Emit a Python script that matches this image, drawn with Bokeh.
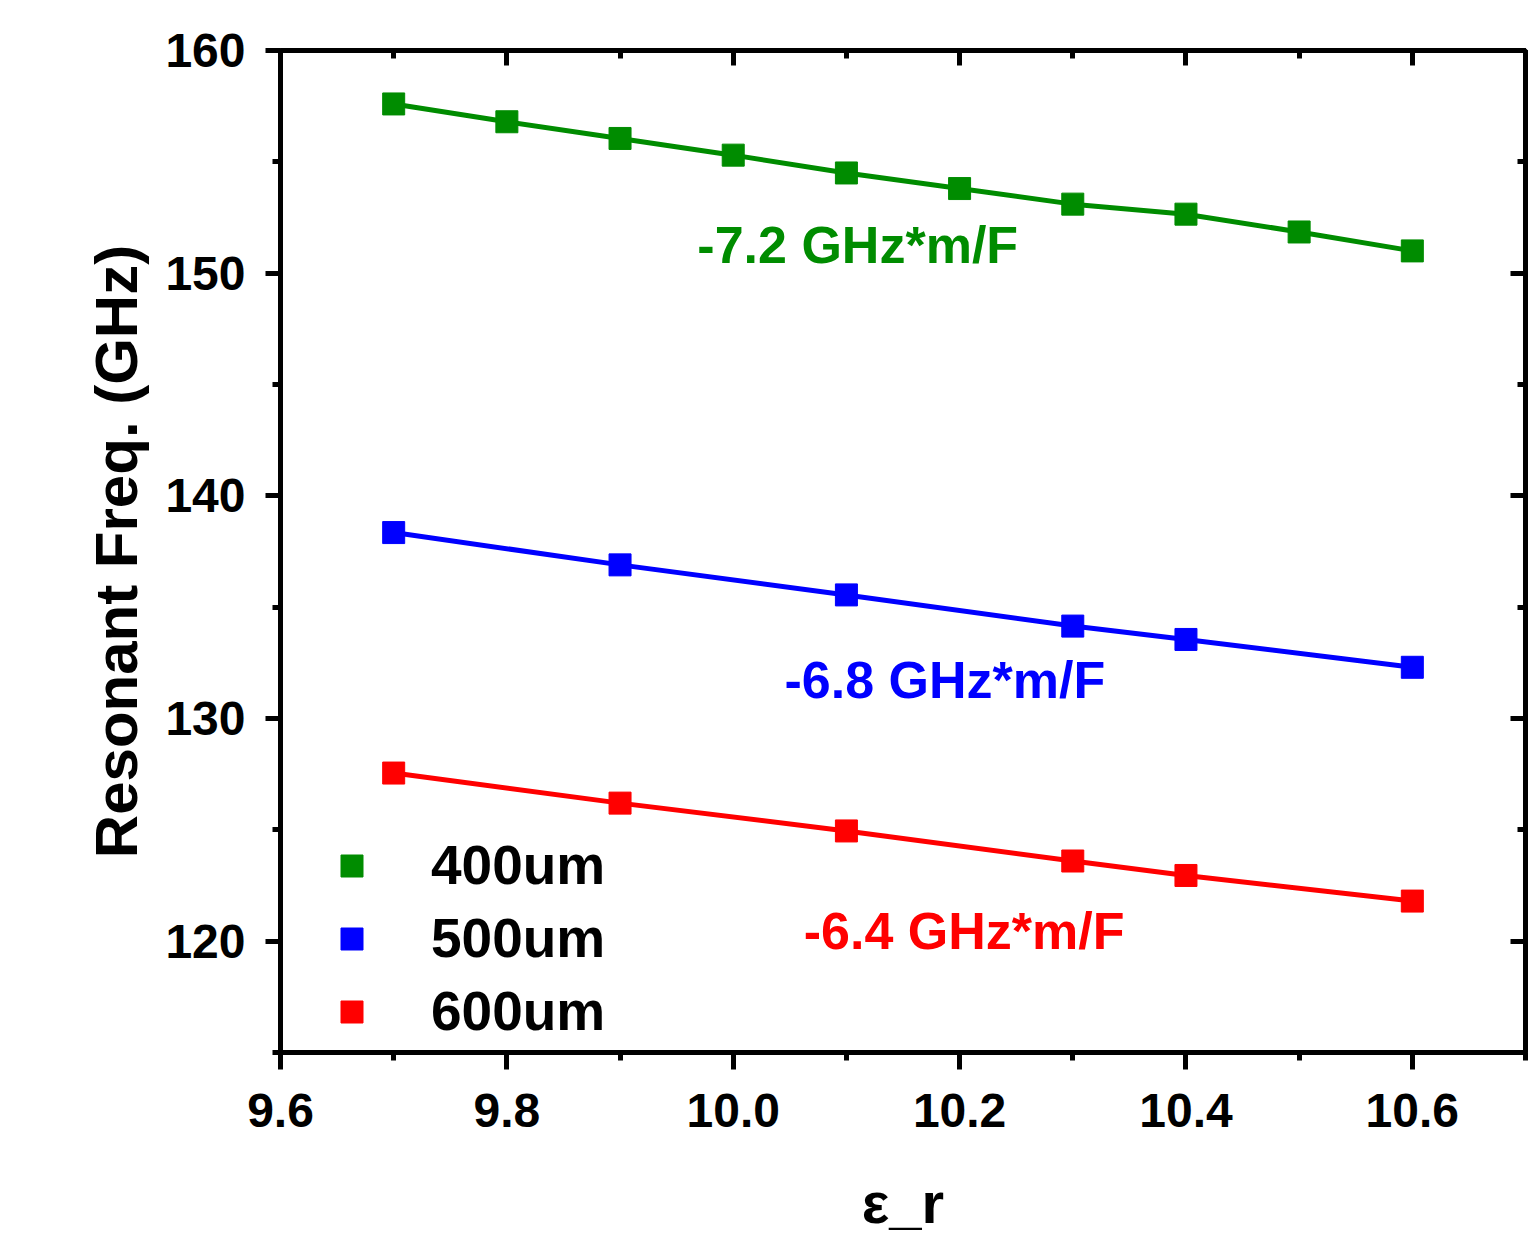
from bokeh.plotting import figure
from bokeh.models import (LinearAxis, FixedTicker, Range1d, Legend, LegendItem,
                          Label, PrintfTickFormatter)
from bokeh.embed import file_html
from bokeh.resources import INLINE

# ---- data ----
eps_400 = [9.7, 9.8, 9.9, 10.0, 10.1, 10.2, 10.3, 10.4, 10.5, 10.6]
freq_400 = [157.6, 156.8, 156.05, 155.3, 154.5, 153.8, 153.1, 152.65, 151.85, 151.0]
eps_500 = [9.7, 9.9, 10.1, 10.3, 10.4, 10.6]
freq_500 = [138.35, 136.9, 135.55, 134.15, 133.55, 132.3]
eps_600 = [9.7, 9.9, 10.1, 10.3, 10.4, 10.6]
freq_600 = [127.55, 126.2, 124.95, 123.6, 122.95, 121.8]
series_names = ["400um", "500um", "600um"]
slope_labels = ["-7.2 GHz*m/F", "-6.8 GHz*m/F", "-6.4 GHz*m/F"]
x_major = [9.6, 9.8, 10.0, 10.2, 10.4, 10.6]
x_minor = [9.7, 9.9, 10.1, 10.3, 10.5, 10.7]
y_major = [120, 130, 140, 150, 160]
y_minor = [115, 125, 135, 145, 155]

GREEN = "#008C00"
BLUE = "#0000FF"
RED = "#FF0000"
FONT = "Liberation Sans"

p = figure(frame_width=1245, frame_height=1002,
           x_range=Range1d(9.6, 10.7), y_range=Range1d(115, 160),
           output_backend="svg", toolbar_location=None,
           min_border_left=280, min_border_top=50, min_border_right=3,
           min_border_bottom=189)
p.xgrid.visible = False
p.ygrid.visible = False
p.outline_line_color = "black"
p.outline_line_width = 5
p.background_fill_color = "white"
p.border_fill_color = "white"

xt = FixedTicker(ticks=x_major, minor_ticks=x_minor)
yt = FixedTicker(ticks=y_major, minor_ticks=y_minor)

def style_axis(ax, labels=True):
    ax.axis_line_width = 5
    ax.major_tick_line_width = 5
    ax.minor_tick_line_width = 5
    ax.major_label_text_font = FONT
    ax.major_label_text_font_style = "bold"
    if labels:
        ax.major_label_text_font_size = "48px"
        ax.major_label_text_color = "black"
    else:
        ax.major_label_text_font_size = "1px"
        ax.major_label_text_color = None
    ax.axis_label_text_font = FONT
    ax.axis_label_text_font_style = "bold"
    ax.axis_label_text_color = "black"

xa = p.xaxis[0]
xa.ticker = xt
xa.formatter = PrintfTickFormatter(format="%.1f")
style_axis(xa)
xa.major_tick_out = 17
xa.major_tick_in = 0
xa.minor_tick_out = 8
xa.minor_tick_in = 0
xa.major_label_standoff = 24
xa.axis_label = "ε_r"
xa.axis_label_text_font_size = "58px"
xa.axis_label_standoff = 40

ya = p.yaxis[0]
ya.ticker = yt
ya.formatter = PrintfTickFormatter(format="%d")
style_axis(ya)
ya.major_tick_out = 15
ya.major_tick_in = 0
ya.minor_tick_out = 8
ya.minor_tick_in = 0
ya.major_label_standoff = 20
ya.axis_label = "Resonant Freq. (GHz)"
ya.axis_label_text_font_size = "60px"
ya.axis_label_standoff = 12

top = LinearAxis(ticker=FixedTicker(ticks=x_major, minor_ticks=x_minor))
style_axis(top, labels=False)
top.major_tick_in = 15
top.major_tick_out = 0
top.minor_tick_in = 8
top.minor_tick_out = 0
top.major_label_standoff = 0
p.add_layout(top, "above")

right = LinearAxis(ticker=FixedTicker(ticks=y_major, minor_ticks=y_minor))
style_axis(right, labels=False)
right.major_tick_in = 15
right.major_tick_out = 0
right.minor_tick_in = 8
right.minor_tick_out = 0
right.major_label_standoff = 0
p.add_layout(right, "right")

renderers = []
for xs, ys, c in [(eps_400, freq_400, GREEN), (eps_500, freq_500, BLUE),
                  (eps_600, freq_600, RED)]:
    p.line(xs, ys, line_color=c, line_width=5)
    r = p.scatter(xs, ys, marker="square", size=22, fill_color=c, line_color=c)
    renderers.append(r)

legend = Legend(items=[LegendItem(label=n, renderers=[r])
                       for n, r in zip(series_names, renderers)],
                location=(44, 9))
legend.label_text_font = FONT
legend.label_text_font_style = "bold"
legend.label_text_font_size = "55px"
legend.label_text_color = "black"
legend.glyph_width = 55
legend.glyph_height = 55
legend.label_standoff = 52
legend.spacing = 9
legend.padding = 0
legend.margin = 0
legend.border_line_color = None
legend.background_fill_alpha = 0
p.add_layout(legend)

for (lx, ly), txt, c in zip([(10.11, 151.26), (10.187, 131.75), (10.204, 120.45)],
                            slope_labels, [GREEN, BLUE, RED]):
    p.add_layout(Label(x=lx, y=ly, text=txt, text_align="center",
                       text_baseline="middle", text_color=c,
                       text_font=FONT, text_font_style="bold",
                       text_font_size="52px"))

open("out.html", "w").write(file_html(p, INLINE))
